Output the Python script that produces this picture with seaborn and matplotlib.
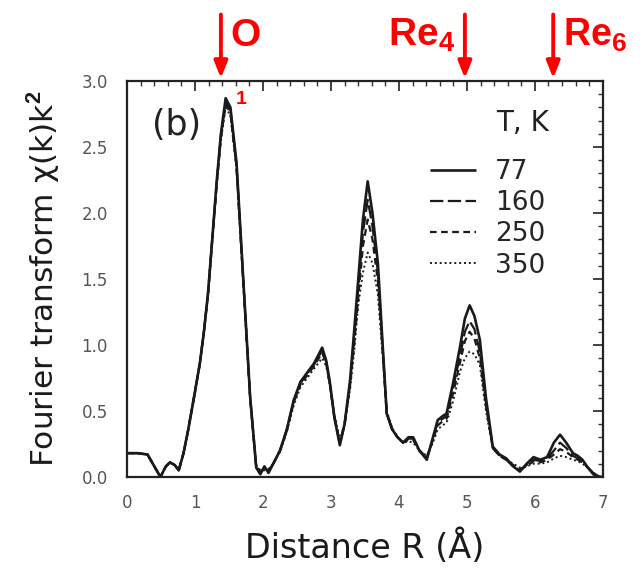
import matplotlib
matplotlib.use("Agg")
import matplotlib.pyplot as plt
import matplotlib.transforms as mtransforms
from matplotlib.ticker import MultipleLocator
import seaborn as sns
import pandas as pd

# distance R (A)
r = [0.0, 0.15, 0.3, 0.4, 0.49, 0.57, 0.63, 0.7, 0.76, 0.83, 0.9, 1.0, 1.07, 1.13, 1.19,
     1.26, 1.32, 1.38, 1.45, 1.52, 1.61, 1.71, 1.81, 1.9, 1.96, 2.02, 2.08, 2.15, 2.25,
     2.35, 2.45, 2.55, 2.65, 2.75, 2.87, 2.93, 2.98, 3.05, 3.13, 3.2, 3.28, 3.34, 3.4,
     3.47, 3.54, 3.61, 3.69, 3.76, 3.82, 3.9, 3.98, 4.06, 4.14, 4.21, 4.3, 4.41, 4.5,
     4.57, 4.64, 4.7, 4.8, 4.9, 4.97, 5.04, 5.11, 5.19, 5.28, 5.38, 5.48, 5.58, 5.68,
     5.78, 5.88, 5.98, 6.08, 6.18, 6.28, 6.37, 6.46, 6.56, 6.63, 6.7, 6.78, 6.86, 6.95, 7.0]

ft_77 = [0.18, 0.18, 0.17, 0.08, 0.0, 0.08, 0.11, 0.09, 0.05, 0.18, 0.36, 0.65, 0.86, 1.1, 1.39,
         1.85, 2.25, 2.6, 2.87, 2.8, 2.38, 1.49, 0.61, 0.07, 0.02, 0.08, 0.03, 0.1, 0.2,
         0.36, 0.58, 0.72, 0.79, 0.86, 0.98, 0.88, 0.73, 0.45, 0.24, 0.4, 0.73, 1.1, 1.49,
         1.95, 2.24, 2.0, 1.62, 1.0, 0.48, 0.36, 0.3, 0.26, 0.3, 0.3, 0.2, 0.13, 0.3,
         0.43, 0.46, 0.48, 0.72, 0.99, 1.2, 1.3, 1.22, 1.04, 0.6, 0.23, 0.17, 0.14, 0.08,
         0.04, 0.1, 0.15, 0.13, 0.15, 0.26, 0.32, 0.26, 0.18, 0.16, 0.13, 0.07, 0.02, 0.0, 0.0]

ft_160 = [0.18, 0.18, 0.17, 0.08, 0.0, 0.08, 0.11, 0.09, 0.05, 0.18, 0.36, 0.65, 0.86, 1.1, 1.39,
          1.85, 2.24, 2.58, 2.84, 2.78, 2.36, 1.48, 0.6, 0.07, 0.03, 0.07, 0.04, 0.1, 0.2,
          0.36, 0.57, 0.71, 0.78, 0.85, 0.96, 0.87, 0.72, 0.45, 0.25, 0.4, 0.71, 1.05, 1.42,
          1.85, 2.1, 1.9, 1.55, 0.98, 0.48, 0.36, 0.3, 0.26, 0.29, 0.29, 0.2, 0.14, 0.29,
          0.41, 0.44, 0.46, 0.68, 0.92, 1.1, 1.18, 1.12, 0.95, 0.56, 0.22, 0.16, 0.13, 0.08,
          0.05, 0.09, 0.13, 0.12, 0.14, 0.2, 0.26, 0.22, 0.16, 0.14, 0.12, 0.07, 0.03, 0.0, 0.0]

ft_250 = [0.18, 0.18, 0.17, 0.08, 0.0, 0.08, 0.11, 0.09, 0.05, 0.18, 0.36, 0.65, 0.86, 1.1, 1.38,
          1.84, 2.23, 2.57, 2.82, 2.76, 2.35, 1.47, 0.6, 0.08, 0.04, 0.06, 0.05, 0.1, 0.2,
          0.35, 0.56, 0.7, 0.77, 0.84, 0.94, 0.86, 0.71, 0.46, 0.26, 0.4, 0.69, 1.0, 1.35,
          1.75, 1.95, 1.8, 1.48, 0.96, 0.48, 0.36, 0.3, 0.26, 0.28, 0.28, 0.2, 0.15, 0.28,
          0.39, 0.42, 0.44, 0.64, 0.87, 1.03, 1.1, 1.05, 0.9, 0.54, 0.22, 0.16, 0.13, 0.09,
          0.06, 0.08, 0.12, 0.11, 0.13, 0.17, 0.21, 0.19, 0.15, 0.13, 0.11, 0.07, 0.03, 0.0, 0.0]

ft_350 = [0.18, 0.18, 0.17, 0.08, 0.0, 0.08, 0.11, 0.09, 0.05, 0.18, 0.36, 0.64, 0.85, 1.09, 1.37,
          1.83, 2.22, 2.55, 2.8, 2.74, 2.33, 1.46, 0.6, 0.09, 0.05, 0.05, 0.06, 0.1, 0.19,
          0.34, 0.54, 0.68, 0.75, 0.82, 0.9, 0.84, 0.7, 0.47, 0.28, 0.4, 0.66, 0.95, 1.3,
          1.55, 1.7, 1.62, 1.38, 0.92, 0.5, 0.37, 0.3, 0.26, 0.27, 0.26, 0.2, 0.16, 0.26,
          0.36, 0.39, 0.41, 0.58, 0.8, 0.9, 0.95, 0.93, 0.85, 0.5, 0.22, 0.16, 0.13, 0.1,
          0.07, 0.08, 0.1, 0.1, 0.11, 0.14, 0.16, 0.15, 0.13, 0.12, 0.1, 0.07, 0.03, 0.0, 0.0]

temps = ["77", "160", "250", "350"]

# peak markers above the frame
marks = ["O", "Re$_\\mathbf{4}$", "Re$_\\mathbf{6}$"]
mark_r = [1.38, 4.97, 6.27]

df = pd.DataFrame({"R": r, "77": ft_77, "160": ft_160, "250": ft_250, "350": ft_350})
long = df.melt(id_vars="R", var_name="T", value_name="FT")

sns.set_style("white")
plt.rcParams["font.family"] = ["DejaVu Sans"]
plt.rcParams["mathtext.fontset"] = "custom"
plt.rcParams["mathtext.bf"] = "Liberation Sans:bold"
plt.rcParams["mathtext.rm"] = "Liberation Sans:bold"

fig = plt.figure(figsize=(6.42, 5.83), dpi=100)
ax = fig.add_axes([0.198, 0.182, 0.741, 0.679])

styles = {"77": (0, ()), "160": (0, (6, 2)), "250": (0, (3, 2)), "350": (0, (1, 1.5))}
widths = {"77": 1.9, "160": 1.6, "250": 1.6, "350": 1.4}
for t in temps:
    sub = long[long["T"] == t]
    sns.lineplot(data=sub, x="R", y="FT", ax=ax, color="#1a1a1a",
                 linestyle=styles[t], linewidth=widths[t], label=t)

ax.set_xlim(0, 7)
ax.set_ylim(0, 3.0)
ax.xaxis.set_major_locator(MultipleLocator(1))
ax.xaxis.set_minor_locator(MultipleLocator(0.2))
ax.yaxis.set_major_locator(MultipleLocator(0.5))
ax.yaxis.set_minor_locator(MultipleLocator(0.1))
ax.set_xticklabels([f"{v:g}" for v in ax.get_xticks()])
ax.set_yticklabels([f"{v:.1f}" for v in ax.get_yticks()])
ax.tick_params(which="both", direction="in", top=True, right=True, color="#333333")
ax.tick_params(which="major", length=7, width=1.3, labelsize=12, labelcolor="#555555")
ax.tick_params(axis="x", which="major", pad=12)
ax.tick_params(axis="y", which="major", pad=14)
ax.tick_params(which="minor", length=3.5, width=1)
for s in ax.spines.values():
    s.set_linewidth(1.6)
    s.set_color("#222222")

ax.set_xlabel("Distance R (Å)", fontsize=24, labelpad=13, color="#1a1a1a")
ax.set_ylabel("Fourier transform χ(k)k$^2$", fontsize=22.5, labelpad=14, color="#1a1a1a")

ax.text(0.36, 2.67, "(b)", fontsize=25, color="#222222", ha="left", va="center")

leg = ax.legend(loc="upper left", bbox_to_anchor=(0.615, 0.83), frameon=False,
                fontsize=19, handlelength=1.75, handletextpad=0.7, labelspacing=0.2,
                borderaxespad=0)
ax.text(0.887, 0.894, "T, K", transform=ax.transAxes, fontsize=20, color="#222222",
        ha="right", va="center")

trans = mtransforms.blended_transform_factory(ax.transData, ax.transAxes)
for lab, xr in zip(marks, mark_r):
    ax.annotate("", xy=(xr, 1.0), xycoords=trans, xytext=(xr, 1.175), textcoords=trans,
                arrowprops=dict(arrowstyle="-|>,head_length=1.0,head_width=0.4",
                                color="red", lw=2.8), annotation_clip=False)
ax.text(mark_r[0] + 0.14, 1.115, marks[0], transform=trans, color="red", fontsize=28,
        fontweight="bold", family="Liberation Sans", ha="left", va="center", clip_on=False)
ax.text(mark_r[1] - 0.14, 1.115, marks[1], transform=trans, color="red", fontsize=28,
        fontweight="bold", family="Liberation Sans", ha="right", va="center", clip_on=False)
ax.text(mark_r[2] + 0.14, 1.115, marks[2], transform=trans, color="red", fontsize=27,
        fontweight="bold", family="Liberation Sans", ha="left", va="center", clip_on=False)
ax.text(1.6, 2.86, "1", color="red", fontsize=14, fontweight="bold", family="Liberation Sans",
        ha="left", va="center")

fig.savefig("out.png", dpi=100)
